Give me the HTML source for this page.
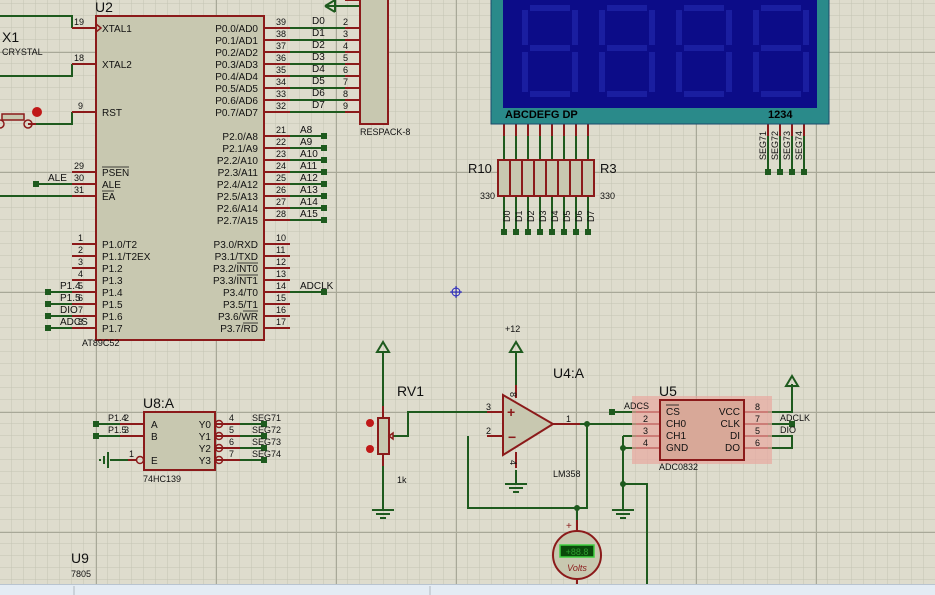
<!DOCTYPE html>
<html><head><meta charset="utf-8"><style>
html,body{margin:0;padding:0;background:#dcdccc;}
svg{display:block;font-family:"Liberation Sans",sans-serif;}
</style></head><body>
<svg width="935" height="595" viewBox="0 0 935 595" xmlns="http://www.w3.org/2000/svg">
<defs>
<pattern id="g" x="0" y="4" width="12" height="12" patternUnits="userSpaceOnUse">
<path d="M12 0V12M0 12H12" stroke="#c4c4b4" stroke-width="1" fill="none"/>
</pattern>
</defs>
<rect width="935" height="595" fill="#dedccd"/>
<rect width="935" height="595" fill="url(#g)"/>
<g stroke="#a8a898" stroke-width="1">
<path d="M96.5 0V595M216.5 0V595M336.5 0V595M456.5 0V595M576.5 0V595M696.5 0V595M816.5 0V595"/>
<path d="M0 52.5H935M0 172.5H935M0 292.5H935M0 412.5H935M0 532.5H935"/>
</g>

<g stroke="#1e5a1e" stroke-width="2" fill="none">
<path d="M0 16H72V28M0 76H72V64M28 124H72V112M36 184H72M0 196H72"/>
<path d="M48 292H72M48 304H72M48 316H72M48 328H72"/>
<path d="M290 28H345M290 40H345M290 52H345M290 64H345M290 76H345M290 88H345M290 100H345M290 112H345"/>
<path d="M290 136H324M290 148H324M290 160H324M290 172H324M290 184H324M290 196H324M290 208H324M290 220H324M290 292H324"/>
<path d="M504 124V160M516 124V160M528 124V160M540 124V160M552 124V160M564 124V160M576 124V160M588 124V160"/>
<path d="M504 196V232M516 196V232M528 196V232M540 196V232M552 196V232M564 196V232M576 196V232M588 196V232"/>
<path d="M768 136V172M780 136V172M792 136V172M804 136V172"/>
<path d="M383 352V418M383 454V510M393 436H408V412H487"/>
<path d="M516 352V395M516 470V484M468 436V508H587V424M580 424H636M612 412H636"/>
<path d="M577 508V520M623 436H636M623 448H636M623 436V510M623 484H647V585"/>
<path d="M768 412H792V384M768 424H792M768 436H792V448H768"/>
<path d="M96 424H120M96 436H120M110 460H136"/>
<path d="M240 424H264M240 436H264M240 448H264M240 460H264"/>
</g>
<g stroke="#1e5a1e" stroke-width="2" fill="none">
<path d="M377 352L383 342L389 352Z M510 352L516 342L522 352Z M786 386L792 376L798 386Z"/>
<path d="M325 6L335 0M325 6L335 12M335 0V12M325 6H360"/>
<path d="M372 510H394M376 514H390M380 518H386M505 484H527M509 488H523M513 492H519M612 510H634M616 514H630M620 518H626"/>
<path d="M108 452V468M104 456V464M100 459V461"/>
</g>
<g fill="#1e5a1e">
<rect x="33" y="181" width="6" height="6"/>
<rect x="45" y="289" width="6" height="6"/><rect x="45" y="301" width="6" height="6"/><rect x="45" y="313" width="6" height="6"/><rect x="45" y="325" width="6" height="6"/>
<g><rect x="321" y="133" width="6" height="6"/><rect x="321" y="145" width="6" height="6"/><rect x="321" y="157" width="6" height="6"/><rect x="321" y="169" width="6" height="6"/><rect x="321" y="181" width="6" height="6"/><rect x="321" y="193" width="6" height="6"/><rect x="321" y="205" width="6" height="6"/><rect x="321" y="217" width="6" height="6"/><rect x="321" y="289" width="6" height="6"/></g>
<rect x="501" y="229" width="6" height="6"/><rect x="513" y="229" width="6" height="6"/><rect x="525" y="229" width="6" height="6"/><rect x="537" y="229" width="6" height="6"/><rect x="549" y="229" width="6" height="6"/><rect x="561" y="229" width="6" height="6"/><rect x="573" y="229" width="6" height="6"/><rect x="585" y="229" width="6" height="6"/>
<rect x="765" y="169" width="6" height="6"/><rect x="777" y="169" width="6" height="6"/><rect x="789" y="169" width="6" height="6"/><rect x="801" y="169" width="6" height="6"/>
<rect x="93" y="421" width="6" height="6"/><rect x="93" y="433" width="6" height="6"/>
<rect x="261" y="421" width="6" height="6"/><rect x="261" y="433" width="6" height="6"/><rect x="261" y="445" width="6" height="6"/><rect x="261" y="457" width="6" height="6"/>
<rect x="609" y="409" width="6" height="6"/><rect x="789" y="421" width="6" height="6"/>
<circle cx="587" cy="424" r="3"/><circle cx="577" cy="508" r="3"/><circle cx="623" cy="448" r="3"/><circle cx="623" cy="484" r="3"/>
</g>

<g stroke="#8b1a1a" stroke-width="2" fill="none">
<path d="M72 28H96M72 64H96M72 112H96M72 172H96M72 184H96M72 196H96"/>
<path d="M72 244H96M72 256H96M72 268H96M72 280H96M72 292H96M72 304H96M72 316H96M72 328H96"/>
<path d="M264 28H290M264 40H290M264 52H290M264 64H290M264 76H290M264 88H290M264 100H290M264 112H290"/>
<path d="M264 136H290M264 148H290M264 160H290M264 172H290M264 184H290M264 196H290M264 208H290M264 220H290"/>
<path d="M264 244H290M264 256H290M264 268H290M264 280H290M264 292H290M264 304H290M264 316H290M264 328H290"/>
<path d="M345 28H360M345 40H360M345 52H360M345 64H360M345 76H360M345 88H360M345 100H360M345 112H360M345 0H360"/>
<path d="M504 124V136M516 124V136M528 124V136M540 124V136M552 124V136M564 124V136M576 124V136M588 124V136"/>
<path d="M768 124V136M780 124V136M792 124V136M804 124V136"/>
<path d="M383 406V418M383 454V466M487 412H503M487 436H503M553 424H580M516 385V398M516 452V468"/>
<path d="M636 412H660M636 424H660M636 436H660M636 448H660M744 412H768M744 424H768M744 436H768M744 448H768"/>
<path d="M120 424H144M120 436H144M128 460H136M215 424H240M215 436H240M215 448H240M215 460H240"/>
<path d="M577 520V531M577 579V585M36 124H28"/>
</g>

<rect x="96" y="16" width="168" height="324" fill="#c8c8b0" stroke="#8b1a1a" stroke-width="2"/>
<path d="M96 24L101 28L96 32" stroke="#8b1a1a" fill="none" stroke-width="1.5"/>
<rect x="360" y="-4" width="28" height="128" fill="#c8c8b0" stroke="#8b1a1a" stroke-width="2"/>
<rect x="491" y="-2" width="338" height="126" fill="#2a8a8a" stroke="#1a4a6a" stroke-width="1"/>
<rect x="503" y="-2" width="314" height="110" fill="#0c0c88"/>
<g stroke="#1a1ea0" stroke-width="6" fill="none">
<path d="M525 10V45M525 52V92M575 10V45M575 52V92M530 8H570M530 48H570M530 94H570"/>
<path d="M602 10V45M602 52V92M652 10V45M652 52V92M607 8H647M607 48H647M607 94H647"/>
<path d="M679 10V45M679 52V92M729 10V45M729 52V92M684 8H724M684 48H724M684 94H724"/>
<path d="M756 10V45M756 52V92M806 10V45M806 52V92M761 8H801M761 48H801M761 94H801"/>
</g>
<rect x="498" y="160" width="96" height="36" fill="#c8c8b0" stroke="#8b1a1a" stroke-width="2"/>
<g stroke="#8b1a1a" stroke-width="2"><path d="M510 160V196M522 160V196M534 160V196M546 160V196M558 160V196M570 160V196M582 160V196"/></g>
<rect x="378" y="418" width="11" height="36" fill="#c8c8b0" stroke="#8b1a1a" stroke-width="2"/>
<path d="M389 436l4-3v6z" fill="none" stroke="#8b1a1a" stroke-width="1.5"/>
<circle cx="370" cy="423" r="4" fill="#c01818"/><circle cx="370" cy="449" r="4" fill="#c01818"/>
<path d="M503 395L503 455L553 424Z" fill="#c8c8b0" stroke="#8b1a1a" stroke-width="2"/>
<text x="507" y="417" font-size="14" fill="#8b1a1a" font-weight="bold">+</text>
<text x="508" y="442" font-size="14" fill="#8b1a1a" font-weight="bold">−</text>
<rect x="632" y="396" width="140" height="68" fill="#e8a8a0" opacity="0.7"/>
<rect x="660" y="400" width="84" height="60" fill="#d8a898" stroke="#8b1a1a" stroke-width="2"/>
<rect x="144" y="412" width="71" height="58" fill="#c8c8b0" stroke="#8b1a1a" stroke-width="2"/>
<g fill="none" stroke="#8b1a1a" stroke-width="1.5"><circle cx="140" cy="460" r="3.5"/><circle cx="219" cy="424" r="3.5"/><circle cx="219" cy="436" r="3.5"/><circle cx="219" cy="448" r="3.5"/><circle cx="219" cy="460" r="3.5"/></g>
<circle cx="577" cy="555" r="24" fill="#c8c8b0" stroke="#8b1a1a" stroke-width="2"/>
<rect x="560" y="545" width="34" height="12" fill="#0a4a0a" stroke="#40d040" stroke-width="1.5"/>
<text x="577" y="555" font-size="9" fill="#30a030" text-anchor="middle">+88.8</text>
<text x="577" y="571" font-size="9" font-style="italic" fill="#8b1a1a" text-anchor="middle">Volts</text>
<text x="566" y="529" font-size="10" fill="#8b1a1a">+</text>
<rect x="2" y="114" width="22" height="6" fill="#c8c8b0" stroke="#8b1a1a" stroke-width="1.5"/>
<circle cx="28" cy="124" r="4" fill="none" stroke="#8b1a1a" stroke-width="1.5"/>
<circle cx="0" cy="124" r="4" fill="none" stroke="#8b1a1a" stroke-width="1.5"/>
<circle cx="37" cy="112" r="5" fill="#c01818"/>

<g font-size="10" fill="#111">
<text x="95" y="12" font-size="14">U2</text>
<text x="2" y="42" font-size="14">X1</text>
<text x="2" y="55" font-size="9">CRYSTAL</text>
<text x="102" y="32">XTAL1</text><text x="102" y="68">XTAL2</text><text x="102" y="116">RST</text>
<text x="102" y="176">PSEN</text><text x="102" y="188">ALE</text><text x="102" y="200">EA</text>
<path d="M102 167H129M102 191H114" stroke="#111" stroke-width="0.8"/>
<text x="102" y="248">P1.0/T2</text><text x="102" y="260">P1.1/T2EX</text><text x="102" y="272">P1.2</text><text x="102" y="284">P1.3</text><text x="102" y="296">P1.4</text><text x="102" y="308">P1.5</text><text x="102" y="320">P1.6</text><text x="102" y="332">P1.7</text>
<g text-anchor="end">
<text x="258" y="32">P0.0/AD0</text><text x="258" y="44">P0.1/AD1</text><text x="258" y="56">P0.2/AD2</text><text x="258" y="68">P0.3/AD3</text><text x="258" y="80">P0.4/AD4</text><text x="258" y="92">P0.5/AD5</text><text x="258" y="104">P0.6/AD6</text><text x="258" y="116">P0.7/AD7</text>
<text x="258" y="140">P2.0/A8</text><text x="258" y="152">P2.1/A9</text><text x="258" y="164">P2.2/A10</text><text x="258" y="176">P2.3/A11</text><text x="258" y="188">P2.4/A12</text><text x="258" y="200">P2.5/A13</text><text x="258" y="212">P2.6/A14</text><text x="258" y="224">P2.7/A15</text>
<text x="258" y="248">P3.0/RXD</text><text x="258" y="260">P3.1/TXD</text><text x="258" y="272">P3.2/INT0</text><text x="258" y="284">P3.3/INT1</text><text x="258" y="296">P3.4/T0</text><text x="258" y="308">P3.5/T1</text><text x="258" y="320">P3.6/WR</text><text x="258" y="332">P3.7/RD</text>
</g>
<path d="M237 263H258M237 275H258M243 311H258M243 323H258" stroke="#111" stroke-width="0.8"/>
<g font-size="9">
<text x="74" y="25">19</text><text x="74" y="61">18</text><text x="78" y="109">9</text><text x="74" y="169">29</text><text x="74" y="181">30</text><text x="74" y="193">31</text>
<text x="78" y="241">1</text><text x="78" y="253">2</text><text x="78" y="265">3</text><text x="78" y="277">4</text><text x="78" y="289">5</text><text x="78" y="301">6</text><text x="78" y="313">7</text><text x="78" y="325">8</text>
<text x="276" y="25">39</text><text x="276" y="37">38</text><text x="276" y="49">37</text><text x="276" y="61">36</text><text x="276" y="73">35</text><text x="276" y="85">34</text><text x="276" y="97">33</text><text x="276" y="109">32</text>
<text x="276" y="133">21</text><text x="276" y="145">22</text><text x="276" y="157">23</text><text x="276" y="169">24</text><text x="276" y="181">25</text><text x="276" y="193">26</text><text x="276" y="205">27</text><text x="276" y="217">28</text>
<text x="276" y="241">10</text><text x="276" y="253">11</text><text x="276" y="265">12</text><text x="276" y="277">13</text><text x="276" y="289">14</text><text x="276" y="301">15</text><text x="276" y="313">16</text><text x="276" y="325">17</text>
<text x="343" y="25">2</text><text x="343" y="37">3</text><text x="343" y="49">4</text><text x="343" y="61">5</text><text x="343" y="73">6</text><text x="343" y="85">7</text><text x="343" y="97">8</text><text x="343" y="109">9</text>
</g>
<text x="312" y="24">D0</text><text x="312" y="36">D1</text><text x="312" y="48">D2</text><text x="312" y="60">D3</text><text x="312" y="72">D4</text><text x="312" y="84">D5</text><text x="312" y="96">D6</text><text x="312" y="108">D7</text>
<text x="300" y="133">A8</text><text x="300" y="145">A9</text><text x="300" y="157">A10</text><text x="300" y="169">A11</text><text x="300" y="181">A12</text><text x="300" y="193">A13</text><text x="300" y="205">A14</text><text x="300" y="217">A15</text>
<text x="300" y="289">ADCLK</text>
<text x="48" y="181">ALE</text>
<text x="60" y="289">P1.4</text><text x="60" y="301">P1.5</text><text x="60" y="313">DIO</text><text x="60" y="325">ADCS</text>
<text x="82" y="346" font-size="9">AT89C52</text>
<text x="360" y="135" font-size="9">RESPACK-8</text>
<text x="505" y="118" font-size="11" font-weight="bold" fill="#000">ABCDEFG DP</text>
<text x="768" y="118" font-size="11" font-weight="bold" fill="#000">1234</text>
<text x="468" y="173" font-size="13">R10</text><text x="600" y="173" font-size="13">R3</text>
<text x="480" y="199" font-size="9">330</text><text x="600" y="199" font-size="9">330</text>
<g font-size="9">
<text transform="translate(510,222) rotate(-90)">D0</text><text transform="translate(522,222) rotate(-90)">D1</text><text transform="translate(534,222) rotate(-90)">D2</text><text transform="translate(546,222) rotate(-90)">D3</text><text transform="translate(558,222) rotate(-90)">D4</text><text transform="translate(570,222) rotate(-90)">D5</text><text transform="translate(582,222) rotate(-90)">D6</text><text transform="translate(594,222) rotate(-90)">D7</text>
<text transform="translate(766,160) rotate(-90)">SEG71</text><text transform="translate(778,160) rotate(-90)">SEG72</text><text transform="translate(790,160) rotate(-90)">SEG73</text><text transform="translate(802,160) rotate(-90)">SEG74</text>
</g>
<text x="397" y="396" font-size="14">RV1</text>
<text x="397" y="483" font-size="9">1k</text>
<text x="505" y="332" font-size="9">+12</text>
<text x="553" y="378" font-size="14">U4:A</text>
<text x="553" y="477" font-size="9">LM358</text>
<g font-size="9"><text x="486" y="410">3</text><text x="486" y="434">2</text><text x="566" y="422">1</text><text transform="translate(510,392) rotate(90)">8</text><text transform="translate(510,460) rotate(90)">4</text></g>
<text x="659" y="396" font-size="14">U5</text>
<text x="666" y="415">CS</text><path d="M666 405H679" stroke="#111" stroke-width="0.8"/>
<text x="666" y="427">CH0</text><text x="666" y="439">CH1</text><text x="666" y="451">GND</text>
<g text-anchor="end"><text x="740" y="415">VCC</text><text x="740" y="427">CLK</text><text x="740" y="439">DI</text><text x="740" y="451">DO</text></g>
<g font-size="9"><text x="643" y="422">2</text><text x="643" y="434">3</text><text x="643" y="446">4</text><text x="755" y="410">8</text><text x="755" y="422">7</text><text x="755" y="434">5</text><text x="755" y="446">6</text></g>
<text x="624" y="409" font-size="9">ADCS</text>
<text x="780" y="421" font-size="9">ADCLK</text><text x="780" y="433" font-size="9">DIO</text>
<text x="659" y="470" font-size="9">ADC0832</text>
<text x="143" y="408" font-size="14">U8:A</text>
<text x="151" y="428">A</text><text x="151" y="440">B</text><text x="151" y="464">E</text>
<g text-anchor="end"><text x="211" y="428">Y0</text><text x="211" y="440">Y1</text><text x="211" y="452">Y2</text><text x="211" y="464">Y3</text></g>
<g font-size="9"><text x="108" y="421">P1.4</text><text x="108" y="433">P1.5</text><text x="124" y="421">2</text><text x="124" y="433">3</text><text x="129" y="457">1</text>
<text x="229" y="421">4</text><text x="229" y="433">5</text><text x="229" y="445">6</text><text x="229" y="457">7</text>
<text x="252" y="421">SEG71</text><text x="252" y="433">SEG72</text><text x="252" y="445">SEG73</text><text x="252" y="457">SEG74</text></g>
<text x="143" y="482" font-size="9">74HC139</text>
<text x="71" y="563" font-size="14">U9</text>
<text x="71" y="577" font-size="9">7805</text>
</g>
<g stroke="#2020c0" stroke-width="1" fill="none"><circle cx="456" cy="292" r="4"/><path d="M450 292H462M456 286V298"/></g>
<rect x="0" y="584" width="935" height="11" fill="#e4ecf4"/>
<path d="M0 584.5H935" stroke="#b8c4d0"/>
<path d="M74 586V595M430 586V595" stroke="#b0b8c0"/>
</svg>
</body></html>
